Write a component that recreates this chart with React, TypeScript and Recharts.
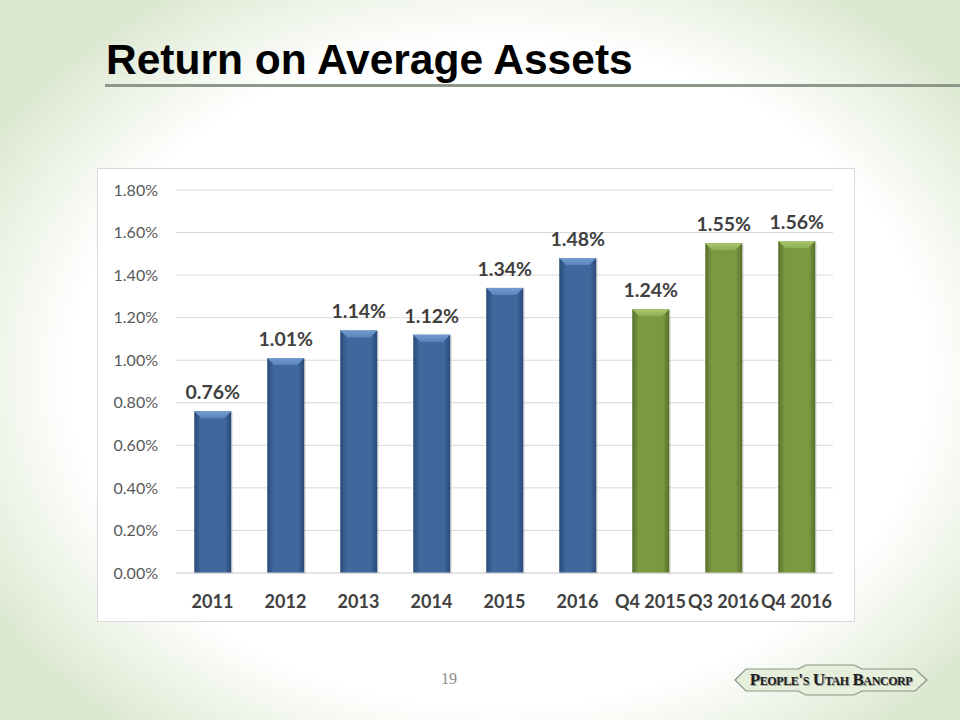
import React from "react";
import { BarChart, Bar, XAxis, YAxis, CartesianGrid, Cell, LabelList } from "recharts";

const categories = ["2011", "2012", "2013", "2014", "2015", "2016", "Q4 2015", "Q3 2016", "Q4 2016"];
const roaValues = [0.76, 1.01, 1.14, 1.12, 1.34, 1.48, 1.24, 1.55, 1.56];
const seriesGroup = ["annual", "annual", "annual", "annual", "annual", "annual", "quarter", "quarter", "quarter"];
const yTicks = [0, 0.2, 0.4, 0.6, 0.8, 1.0, 1.2, 1.4, 1.6, 1.8];

const data = categories.map((c, i) => ({ name: c, value: roaValues[i], group: seriesGroup[i] }));

const palette: Record<string, { edge: string; mid: string; top: string; topHi: string }> = {
  annual: { edge: "#2a4a78", mid: "#41689d", top: "#739bd0", topHi: "#5a84bb" },
  quarter: { edge: "#56702a", mid: "#7b9a40", top: "#a9c76d", topHi: "#8fae52" },
};

const BevelBar = (props: any) => {
  const { x, y, width, height, payload } = props;
  if (height <= 0) return null;
  const g = payload.group;
  const b = Math.min(7, height / 2);
  return (
    <g>
      <rect x={x + 1.5} y={y + 1} width={width} height={height} fill="rgba(0,0,0,0.12)" />
      <rect x={x} y={y} width={width} height={height} fill={`url(#grad-${g})`} />
      <polygon
        points={`${x},${y} ${x + width},${y} ${x + width - b},${y + b} ${x + b},${y + b}`}
        fill={`url(#top-${g})`}
      />
    </g>
  );
};

const fontBody = "Lato, 'Open Sans', 'Liberation Sans', sans-serif";

export default function App() {
  return (
    <div
      style={{
        position: "absolute",
        left: 0,
        top: 0,
        width: 960,
        height: 720,
        overflow: "hidden",
        background:
          "radial-gradient(ellipse 62% 64% at 52% 52%, #ffffff 72%, #eef4e8 86%, #dbe7cf 100%)",
      }}
    >
      <div
        style={{
          position: "absolute",
          left: 106,
          top: 35,
          fontFamily: "'Liberation Sans Narrow', 'Arial Narrow', 'Liberation Sans', sans-serif",
          fontWeight: 700,
          fontSize: 42.5,
          color: "#000",
          lineHeight: "50px",
          whiteSpace: "nowrap",
        }}
      >
        Return on Average Assets
      </div>
      <div
        style={{
          position: "absolute",
          left: 105,
          top: 84,
          width: 855,
          height: 3,
          background: "#8d978a",
        }}
      />
      <div
        style={{
          position: "absolute",
          left: 97,
          top: 168,
          width: 758,
          height: 454,
          background: "#fff",
          border: "1px solid #d9d9d9",
          boxSizing: "border-box",
        }}
      >
        <BarChart
          width={756}
          height={452}
          data={data}
          margin={{ top: 21, right: 21, bottom: 0, left: 0 }}
          barCategoryGap="25%"
        >
          <defs>
            {Object.keys(palette).map((k) => (
              <React.Fragment key={k}>
                <linearGradient id={`grad-${k}`} x1="0" y1="0" x2="1" y2="0">
                  <stop offset="0%" stopColor={palette[k].edge} />
                  <stop offset="18%" stopColor={palette[k].mid} />
                  <stop offset="82%" stopColor={palette[k].mid} />
                  <stop offset="100%" stopColor={palette[k].edge} />
                </linearGradient>
                <linearGradient id={`top-${k}`} x1="0" y1="0" x2="0" y2="1">
                  <stop offset="0%" stopColor={palette[k].top} />
                  <stop offset="100%" stopColor={palette[k].topHi} />
                </linearGradient>
              </React.Fragment>
            ))}
          </defs>
          <CartesianGrid vertical={false} stroke="#d9d9d9" strokeWidth={1} />
          <XAxis
            dataKey="name"
            height={48}
            axisLine={{ stroke: "#d9d9d9" }}
            tickLine={false}
            tickMargin={16}
            interval={0}
            tick={{ fill: "#404040", fontSize: 18, fontWeight: 700, fontFamily: fontBody }}
          />
          <YAxis
            domain={[0, 1.8]}
            ticks={yTicks}
            width={78}
            axisLine={false}
            tickLine={false}
            tickMargin={12}
            tickFormatter={(v: number) => v.toFixed(2) + "%"}
            tick={{ fill: "#595959", fontSize: 16, fontFamily: fontBody }}
          />
          <Bar dataKey="value" isAnimationActive={false} shape={BevelBar}>
            {data.map((d, i) => (
              <Cell key={i} fill={d.group === "annual" ? palette.annual.mid : palette.quarter.mid} />
            ))}
            <LabelList
              dataKey="value"
              position="top"
              offset={12}
              formatter={(v: any) => Number(v).toFixed(2) + "%"}
              style={{ fill: "#404040", fontSize: 19.5, fontWeight: 700, fontFamily: fontBody }}
            />
          </Bar>
        </BarChart>
      </div>
      <div
        style={{
          position: "absolute",
          left: 441,
          top: 670,
          fontFamily: "'Liberation Serif', 'DejaVu Serif', serif",
          fontSize: 16,
          color: "#8c8c8c",
        }}
      >
        19
      </div>
      <svg style={{ position: "absolute", left: 732, top: 662 }} width={200} height={36}>
        <polygon
          points="3,18 14,7 66,7 74,3 122,3 130,7 183,7 195,18 183,29 130,29 122,33 74,33 66,29 14,29"
          fill="#e6eedc"
          stroke="#8a9385"
          strokeWidth={1.2}
        />
        <text
          x={100}
          y={24}
          textAnchor="middle"
          fontFamily="'Liberation Serif', 'DejaVu Serif', serif"
          fontWeight={700}
          fontSize={17}
          fill="#9aa096"
          style={{ fontVariant: "small-caps", letterSpacing: -0.4 }}
        >
          People's Utah Bancorp
        </text>
        <text
          x={99}
          y={23}
          textAnchor="middle"
          fontFamily="'Liberation Serif', 'DejaVu Serif', serif"
          fontWeight={700}
          fontSize={17}
          fill="#1e1e1e"
          style={{ fontVariant: "small-caps", letterSpacing: -0.4 }}
        >
          People's Utah Bancorp
        </text>
      </svg>
    </div>
  );
}
